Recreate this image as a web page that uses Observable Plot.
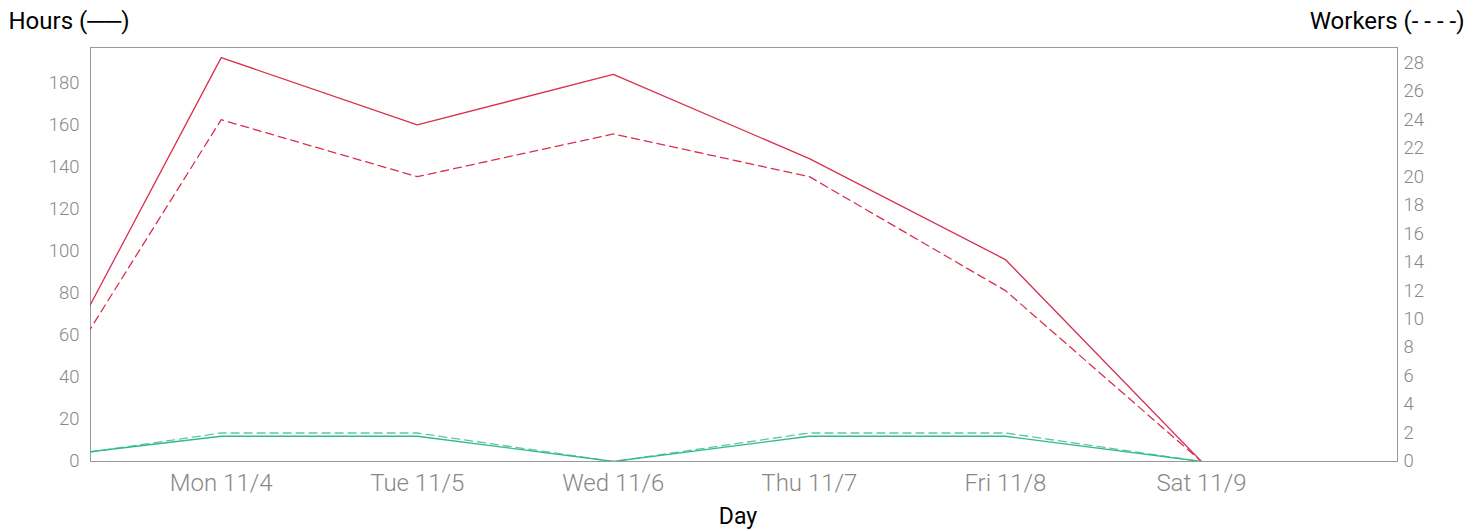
<!DOCTYPE html>
<html><head><meta charset="utf-8">
<script src="https://cdn.jsdelivr.net/npm/d3@7"></script>
<script src="https://cdn.jsdelivr.net/npm/@observablehq/plot@0.6"></script>
<style>body{margin:0;background:#fff;font-family:Roboto,sans-serif}</style>
</head><body><div id="chart"></div>
<script>
const days = ["2024-11-03","2024-11-04","2024-11-05","2024-11-06","2024-11-07","2024-11-08","2024-11-09"];
const hoursRed = [16,192,160,184,144,96,0];
const workersRed = [2,24,20,23,20,12,0];
const hoursGreen = [1,12,12,0,12,12,0];
const workersGreen = [0,2,2,0,2,2,0];
const tickDays = ["2024-11-04","2024-11-05","2024-11-06","2024-11-07","2024-11-08","2024-11-09"];
const hoursTicks = [0,20,40,60,80,100,120,140,160,180];
const workersTicks = [0,2,4,6,8,10,12,14,16,18,20,22,24,26,28];
const hoursMax = 196.8, workersMax = 29.07;
const xStart = "2024-11-03T08:00:00Z", xEnd = "2024-11-10T00:00:00Z";

const k = hoursMax / workersMax;
const dates = days.map(d => new Date(d + "T00:00:00Z"));
const rows = (vals, scale) => vals.map((v, i) => ({date: dates[i], y: v * scale}));
const red = "#d9304f", green = "#34b98a";
const fmt = d3.utcFormat("%a %-m/%-d");

const chart = Plot.plot({
  width: 1484, height: 531,
  marginTop: 47, marginBottom: 70, marginLeft: 90, marginRight: 87,
  style: {fontFamily: "Roboto, sans-serif", background: "#fff"},
  x: {type: "utc", domain: [new Date(xStart), new Date(xEnd)]},
  y: {domain: [0, hoursMax]},
  marks: [
    Plot.frame({stroke: "#999"}),
    Plot.axisX(tickDays.map(d => new Date(d + "T00:00:00Z")), {tickSize: 0, tickPadding: 12, tickFormat: fmt, fontSize: 24, fontWeight: 300, fill: "#888", label: null}),
    Plot.axisY(hoursTicks, {anchor: "left", tickSize: 0, tickPadding: 11, fontSize: 18.5, fontWeight: 300, fill: "#888", label: null}),
    Plot.axisY(workersTicks.map(v => v * k), {anchor: "right", tickSize: 0, tickPadding: 6, fontSize: 18.5, fontWeight: 300, fill: "#888", label: null, tickFormat: d => String(Math.round(d / k))}),
    Plot.line(rows(hoursRed, 1), {x: "date", y: "y", stroke: red, strokeWidth: 1.3, clip: true}),
    Plot.line(rows(workersRed, k), {x: "date", y: "y", stroke: red, strokeWidth: 1.3, strokeDasharray: "8,5", clip: true}),
    Plot.line(rows(hoursGreen, 1), {x: "date", y: "y", stroke: green, strokeWidth: 1.3, clip: true}),
    Plot.line(rows(workersGreen, k), {x: "date", y: "y", stroke: green, strokeOpacity: 0.8, strokeWidth: 1.3, strokeDasharray: "8,5", clip: true}),
    Plot.text(["Hours (\u2500\u2500)"], {frameAnchor: "top-left", dx: -82, dy: -36, textAnchor: "start", fontSize: 24, fill: "#000"}),
    Plot.text(["Workers (- - - -)"], {frameAnchor: "top-right", dx: 67, dy: -36, textAnchor: "end", fontSize: 24, fill: "#000"}),
    Plot.text(["Day"], {frameAnchor: "bottom", dx: -6, dy: 62, fontSize: 23, fill: "#000"})
  ]
});
document.getElementById("chart").appendChild(chart);
</script></body></html>
